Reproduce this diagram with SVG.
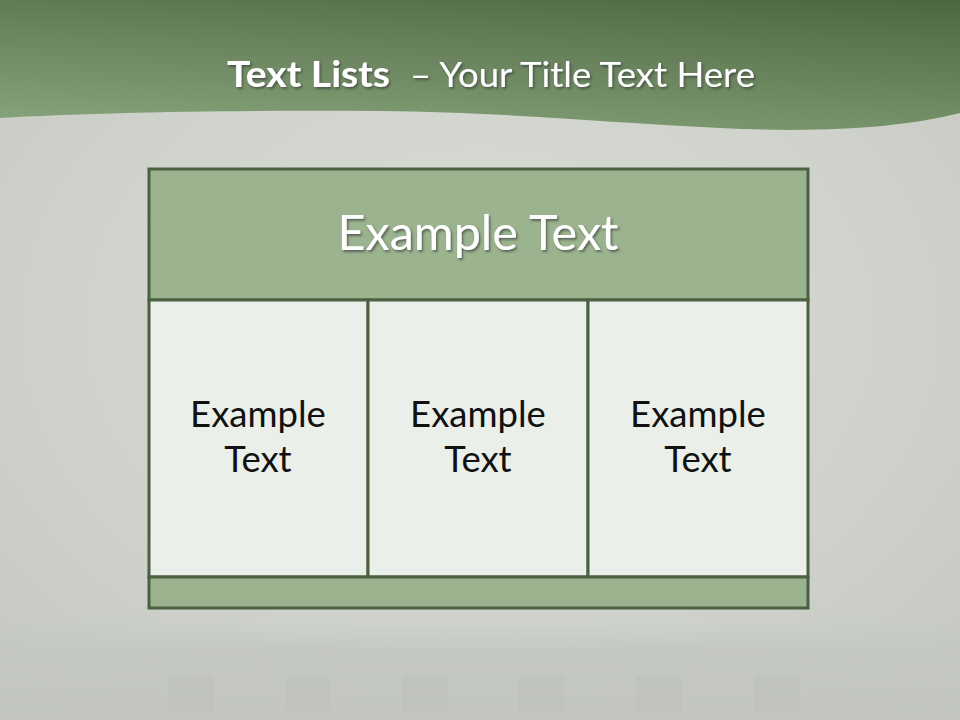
<svg xmlns="http://www.w3.org/2000/svg" width="960" height="720" viewBox="0 0 960 720">
<defs>
<radialGradient id="bg" cx="0.5" cy="0.45" r="0.75">
<stop offset="0" stop-color="#d9ddd6"/>
<stop offset="0.6" stop-color="#ced2cb"/>
<stop offset="1" stop-color="#c3c7c0"/>
</radialGradient>
<linearGradient id="band" x1="0" y1="0" x2="0" y2="1">
<stop offset="0" stop-color="#546f48"/>
<stop offset="1" stop-color="#7f9e72"/>
</linearGradient>
<linearGradient id="bandh" x1="0" y1="0" x2="1" y2="0">
<stop offset="0" stop-color="#ffffff" stop-opacity="0.08"/>
<stop offset="1" stop-color="#000000" stop-opacity="0.08"/>
</linearGradient>
<linearGradient id="bot" x1="0" y1="0" x2="0" y2="1">
<stop offset="0" stop-color="#c8cbc6" stop-opacity="0"/>
<stop offset="0.3" stop-color="#c4c7c2" stop-opacity="0.9"/>
<stop offset="1" stop-color="#c2c5c0"/>
</linearGradient>
<filter id="sh" x="-10%" y="-20%" width="120%" height="140%">
<feDropShadow dx="1.5" dy="2" stdDeviation="1.2" flood-color="#333" flood-opacity="0.6"/>
</filter>
<style>
.frame{stroke:#4a6040;stroke-width:3;}
.dark{fill:#9bb38f;}
.light{fill:#ebefe9;}
.cell{font-family:Lato,"Open Sans",sans-serif;font-size:36.5px;fill:#111;text-anchor:middle;}
</style>
</defs>
<rect width="960" height="720" fill="url(#bg)"/>
<rect x="0" y="620" width="960" height="100" fill="url(#bot)"/>
<g opacity="0.25" fill="#b8bcb5">
<rect x="168" y="676" width="46" height="36" rx="4"/>
<rect x="285" y="676" width="46" height="36" rx="4"/>
<rect x="402" y="676" width="46" height="36" rx="4"/>
<rect x="518" y="676" width="46" height="36" rx="4"/>
<rect x="636" y="676" width="46" height="36" rx="4"/>
<rect x="754" y="676" width="46" height="36" rx="4"/>
</g>
<path d="M0,0 H960 V113 C900,128 820,133 720,128 C600,122 500,112 380,111 C250,110 100,112 0,118 Z" fill="url(#band)"/>
<path d="M0,0 H960 V113 C900,128 820,133 720,128 C600,122 500,112 380,111 C250,110 100,112 0,118 Z" fill="url(#bandh)"/>
<g id="title" font-family="Lato,'Open Sans',sans-serif" fill="#ffffff" filter="url(#sh)">
<text x="227" y="87" font-size="37" font-weight="bold" textLength="163" lengthAdjust="spacingAndGlyphs">Text Lists</text>
<text x="410" y="87" font-size="35" textLength="345" lengthAdjust="spacingAndGlyphs">– Your Title Text Here</text>
</g>
<g id="header">
<rect x="149" y="169" width="659" height="131" class="dark frame"/>
<text x="478" y="250" font-family="Lato,'Open Sans',sans-serif" font-size="48.5" fill="#ffffff" text-anchor="middle" filter="url(#sh)">Example Text</text>
</g>
<g id="cell1">
<rect x="149" y="300" width="219" height="277" class="light frame"/>
<text class="cell" x="258" y="427">Example</text>
<text class="cell" x="258" y="472">Text</text>
</g>
<g id="cell2">
<rect x="368" y="300" width="220" height="277" class="light frame"/>
<text class="cell" x="478" y="427">Example</text>
<text class="cell" x="478" y="472">Text</text>
</g>
<g id="cell3">
<rect x="588" y="300" width="220" height="277" class="light frame"/>
<text class="cell" x="698" y="427">Example</text>
<text class="cell" x="698" y="472">Text</text>
</g>
<g id="footer">
<rect x="149" y="577" width="659" height="31" class="dark frame"/>
</g>
<g id="connectors"/>
</svg>
